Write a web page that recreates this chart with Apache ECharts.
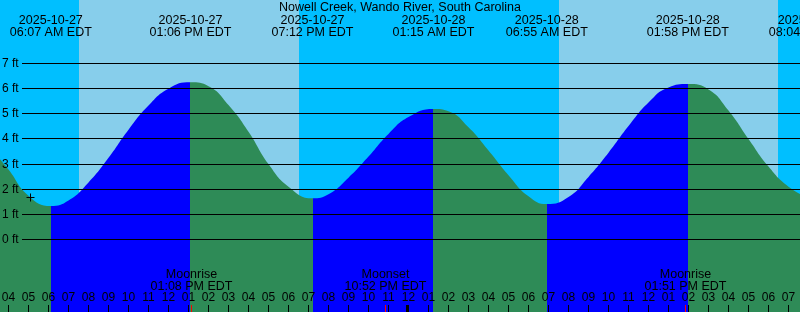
<!DOCTYPE html>
<html><head><meta charset="utf-8">
<script src="https://cdn.jsdelivr.net/npm/echarts@6/dist/echarts.min.js"></script>
<style>html,body{margin:0;padding:0;background:#00BFFF}#c{width:800px;height:312px}</style>
</head><body><div id="c"></div>
<script>
const titleText = 'Nowell Creek, Wando River, South Carolina';

// tide curve readings (time, feet)
const tideTimes = [
  '2025-10-27 03:34','2025-10-27 04:00','2025-10-27 05:00','2025-10-27 06:07',
  '2025-10-27 07:00','2025-10-27 08:00','2025-10-27 09:00','2025-10-27 10:00','2025-10-27 11:00','2025-10-27 12:00','2025-10-27 13:06',
  '2025-10-27 14:00','2025-10-27 15:00','2025-10-27 16:00','2025-10-27 17:00','2025-10-27 18:00','2025-10-27 19:12',
  '2025-10-27 20:00','2025-10-27 21:00','2025-10-27 22:00','2025-10-27 23:00','2025-10-28 00:00','2025-10-28 01:15',
  '2025-10-28 02:00','2025-10-28 03:00','2025-10-28 04:00','2025-10-28 05:00','2025-10-28 06:00','2025-10-28 06:55',
  '2025-10-28 08:00','2025-10-28 09:00','2025-10-28 10:00','2025-10-28 11:00','2025-10-28 12:00','2025-10-28 13:00','2025-10-28 13:58',
  '2025-10-28 15:00','2025-10-28 16:00','2025-10-28 17:00','2025-10-28 18:00','2025-10-28 19:00','2025-10-28 20:04'
];
const tideFeet = [
  3.2, 2.78, 1.74, 1.33,
  1.55, 2.27, 3.25, 4.37, 5.33, 6.0, 6.25,
  6.1, 5.35, 4.29, 3.0, 2.1, 1.64,
  1.8, 2.46, 3.3, 4.2, 4.87, 5.19,
  5.1, 4.46, 3.54, 2.56, 1.72, 1.41,
  1.69, 2.49, 3.45, 4.51, 5.45, 6.05, 6.18,
  5.97, 5.13, 4.0, 2.9, 2.1, 1.62
];

// high / low events
const eventTimes = ['2025-10-27 06:07','2025-10-27 13:06','2025-10-27 19:12','2025-10-28 01:15','2025-10-28 06:55','2025-10-28 13:58','2025-10-28 20:04'];
const eventKinds = ['Low','High','Low','High','Low','High','Low'];
const eventDates = ['2025-10-27','2025-10-27','2025-10-27','2025-10-28','2025-10-28','2025-10-28','2025-10-28'];
const eventClock = ['06:07 AM EDT','01:06 PM EDT','07:12 PM EDT','01:15 AM EDT','06:55 AM EDT','01:58 PM EDT','08:04 PM EDT'];

// sun
const sunriseTimes = ['2025-10-27 07:31:30','2025-10-28 07:31:30'];
const sunsetTimes  = ['2025-10-27 18:31:30','2025-10-28 18:28:30'];

// moon
const moonTimes = ['2025-10-27 13:08','2025-10-27 22:52','2025-10-28 13:51'];
const moonKinds = ['Moonrise','Moonset','Moonrise'];
const moonClock = ['01:08 PM EDT','10:52 PM EDT','01:51 PM EDT'];

// axis ticks
const hourTickStart = '2025-10-27 04:00';
const hourTickLabels = ['04','05','06','07','08','09','10','11','12','01','02','03','04','05','06','07','08','09','10','11',
                        '12','01','02','03','04','05','06','07','08','09','10','11','12','01','02','03','04','05','06','07'];
const dayBreaks = ['2025-10-28 00:00'];
const feetTicks = [0,1,2,3,4,5,6,7];
const nowMark = ['2025-10-27 05:04:30', 1.68];

const xMin = '2025-10-27 03:34:30', xMax = '2025-10-28 19:34:30';
const yMin = -2.884, yMax = 9.526;

const GREEN = '#2E8B57', BLUE = '#0000FF', NIGHT = '#00BFFF', DAY = '#87CEEB';
const FONT = '"Liberation Sans", Arial, sans-serif';

const parseT = s => (echarts.time && echarts.time.parse ? echarts.time.parse(s) : new Date(s.replace(' ', 'T'))).getTime();

// rising / falling pieces
const pieces = [];
eventTimes.forEach((t, i) => {
  const colorBefore = eventKinds[i] === 'Low' ? GREEN : BLUE;
  const p = { lt: parseT(t), color: colorBefore };
  if (i > 0) p.gte = parseT(eventTimes[i - 1]);
  pieces.push(p);
});
pieces.push({ gte: parseT(eventTimes[eventTimes.length - 1]), color: eventKinds[eventKinds.length - 1] === 'Low' ? BLUE : GREEN });

const t0 = parseT(hourTickStart);
const crisp = v => Math.round(v - 0.5) + 0.5;

const chart = echarts.init(document.getElementById('c'), null, { renderer: 'canvas' });
chart.setOption({
  animation: false,
  backgroundColor: NIGHT,
  title: { text: titleText, left: 'center', top: 1, padding: 0, textStyle: { fontSize: 12.5, fontWeight: 'normal', color: '#000', fontFamily: FONT } },
  grid: { left: 0, right: 0, top: 0, bottom: 0 },
  xAxis: { type: 'time', min: xMin, max: xMax, show: false },
  yAxis: { type: 'value', min: yMin, max: yMax, show: false },
  visualMap: { type: 'piecewise', show: false, dimension: 0, seriesIndex: 1, pieces: pieces },
  series: [
    { // daylight bands
      type: 'custom', z: 0, silent: true, clip: false,
      encode: { x: [0, 1], y: 2 },
      data: sunriseTimes.map((s, i) => [s, sunsetTimes[i], 0]),
      renderItem(params, api) {
        const cs = params.coordSys;
        const x1 = api.coord([api.value(0), 0])[0];
        const x2 = api.coord([api.value(1), 0])[0];
        return { type: 'rect', shape: { x: Math.round(x1), y: cs.y, width: Math.round(x2) - Math.round(x1), height: cs.height }, style: { fill: DAY } };
      }
    },
    { // tide
      type: 'line', z: 1, silent: true, smooth: 0.5, showSymbol: false,
      data: tideTimes.map((t, i) => [t, tideFeet[i]]),
      lineStyle: { width: 0, opacity: 0 },
      areaStyle: { opacity: 1, origin: 'start' }
    },
    { // feet grid lines
      type: 'custom', z: 3, silent: true, clip: false,
      data: feetTicks.map(v => [xMin, v]),
      renderItem(params, api) {
        const cs = params.coordSys;
        const y = crisp(api.coord([api.value(0), api.value(1)])[1]);
        return { type: 'group', children: [
          { type: 'line', shape: { x1: cs.x + 22, y1: y, x2: cs.x + cs.width, y2: y }, style: { stroke: '#000', lineWidth: 1 } },
          { type: 'text', style: { text: feetTicks[params.dataIndex] + ' ft', x: cs.x + 2, y: y + 0.5, align: 'left', verticalAlign: 'middle', font: '12px ' + FONT, fill: '#000' } }
        ]};
      }
    },
    { // hour ticks
      type: 'custom', z: 3, silent: true, clip: false,
      data: hourTickLabels.map((l, i) => [t0 + i * 3600000, 0]),
      renderItem(params, api) {
        const cs = params.coordSys;
        const x = crisp(api.coord([api.value(0), 0])[0]);
        const b = cs.y + cs.height;
        return { type: 'group', children: [
          { type: 'line', shape: { x1: x, y1: b - 7, x2: x, y2: b }, style: { stroke: '#000', lineWidth: 1 } },
          { type: 'text', style: { text: hourTickLabels[params.dataIndex], x: x, y: b - 14.5, align: 'center', verticalAlign: 'middle', font: '12px ' + FONT, fill: '#000' } }
        ]};
      }
    },
    { // day break ticks
      type: 'custom', z: 4, silent: true, clip: false,
      data: dayBreaks.map(t => [t, 0]),
      renderItem(params, api) {
        const cs = params.coordSys;
        const x = crisp(api.coord([api.value(0), 0])[0]) - 1;
        const b = cs.y + cs.height;
        return { type: 'line', shape: { x1: x, y1: b - 7, x2: x, y2: b }, style: { stroke: '#000', lineWidth: 3 } };
      }
    },
    { // moon events
      type: 'custom', z: 4, silent: true, clip: false,
      data: moonTimes.map(t => [t, 0]),
      renderItem(params, api) {
        const cs = params.coordSys;
        const x = crisp(api.coord([api.value(0), 0])[0]);
        const b = cs.y + cs.height;
        const i = params.dataIndex;
        return { type: 'group', children: [
          { type: 'line', shape: { x1: x, y1: b - 7, x2: x, y2: b }, style: { stroke: '#FF0000', lineWidth: 1 } },
          { type: 'text', style: { text: moonKinds[i], x: x, y: b - 37.5, align: 'center', verticalAlign: 'middle', font: '12.5px ' + FONT, fill: '#000' } },
          { type: 'text', style: { text: moonClock[i], x: x, y: b - 25.5, align: 'center', verticalAlign: 'middle', font: '12.5px ' + FONT, fill: '#000' } }
        ]};
      }
    },
    { // high/low labels
      type: 'custom', z: 4, silent: true, clip: false,
      data: eventTimes.map(t => [t, 0]),
      renderItem(params, api) {
        const cs = params.coordSys;
        const x = api.coord([api.value(0), 0])[0];
        const i = params.dataIndex;
        return { type: 'group', children: [
          { type: 'text', style: { text: eventDates[i], x: x, y: cs.y + 20.5, align: 'center', verticalAlign: 'middle', font: '12.5px ' + FONT, fill: '#000' } },
          { type: 'text', style: { text: eventClock[i], x: x, y: cs.y + 32.5, align: 'center', verticalAlign: 'middle', font: '12.5px ' + FONT, fill: '#000' } }
        ]};
      }
    },
    { // now marker
      type: 'custom', z: 5, silent: true, clip: false,
      data: [nowMark],
      renderItem(params, api) {
        const c = api.coord([api.value(0), api.value(1)]);
        const x = crisp(c[0]), y = crisp(c[1]);
        return { type: 'group', children: [
          { type: 'line', shape: { x1: x - 4, y1: y, x2: x + 4, y2: y }, style: { stroke: '#000', lineWidth: 1 } },
          { type: 'line', shape: { x1: x, y1: y - 4, x2: x, y2: y + 4 }, style: { stroke: '#000', lineWidth: 1 } }
        ]};
      }
    }
  ]
});
</script>
</body></html>
